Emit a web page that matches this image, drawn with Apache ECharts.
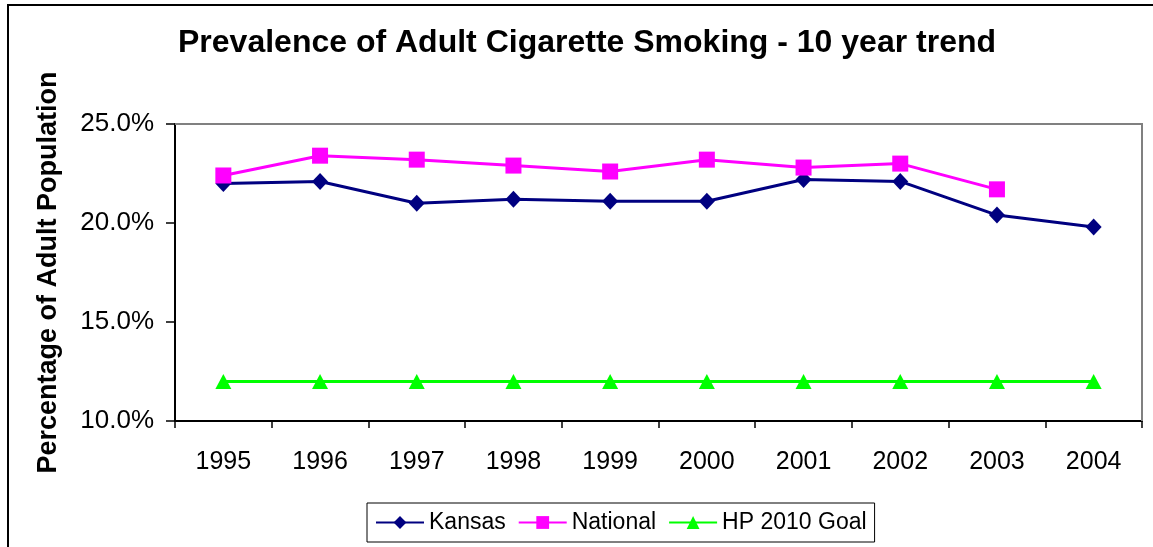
<!DOCTYPE html>
<html>
<head>
<meta charset="utf-8">
<script src="https://cdn.jsdelivr.net/npm/echarts@6/dist/echarts.min.js"></script>
<style>
html,body{margin:0;padding:0;background:#fff;}
#chart{width:1153px;height:547px;}
</style>
</head>
<body>
<div id="chart"></div>
<script>
const years = ['1995','1996','1997','1998','1999','2000','2001','2002','2003','2004'];
const kansas = [22.0, 22.1, 21.0, 21.2, 21.1, 21.1, 22.2, 22.1, 20.4, 19.8];
const national = [22.4, 23.4, 23.2, 22.9, 22.6, 23.2, 22.8, 23.0, 21.7, null];
const hpGoal = [12, 12, 12, 12, 12, 12, 12, 12, 12, 12];

const FONT = '"Liberation Sans", Arial, sans-serif';
const chart = echarts.init(document.getElementById('chart'), null, {renderer: 'canvas'});
chart.setOption({
  animation: false,
  backgroundColor: '#fff',
  textStyle: {fontFamily: FONT},
  title: {
    text: 'Prevalence of Adult Cigarette Smoking - 10 year trend',
    left: 173,
    top: 22,
    textStyle: {fontFamily: FONT, fontSize: 32, fontWeight: 'bold', color: '#000'}
  },
  graphic: [{
    type: 'rect',
    shape: {x: 8, y: 5, width: 1300, height: 700},
    style: {fill: 'none', stroke: '#000', lineWidth: 2},
    silent: true
  }, {
    type: 'polyline',
    shape: {points: [[175, 124], [1142, 124], [1142, 421]]},
    style: {fill: 'none', stroke: '#808080', lineWidth: 2},
    silent: true,
    z: 1
  }],
  legend: {
    left: 367,
    top: 503,
    padding: [8, 8, 8, 8],
    borderColor: '#000',
    borderWidth: 1,
    itemWidth: 48,
    itemHeight: 16,
    itemGap: 12,
    textStyle: {fontFamily: FONT, fontSize: 23, color: '#000'},
    data: ['Kansas', 'National', 'HP 2010 Goal']
  },
  grid: {left: 175, top: 124, right: 11, bottom: 126, containLabel: false},
  xAxis: {
    type: 'category',
    data: years,
    boundaryGap: true,
    axisLine: {show: true, lineStyle: {color: '#000', width: 2}},
    axisTick: {show: true, inside: false, length: 7, lineStyle: {color: '#000', width: 1.5}},
    axisLabel: {fontFamily: FONT, fontSize: 25, color: '#000', margin: 29},
    splitLine: {show: false}
  },
  yAxis: {
    type: 'value',
    min: 10,
    max: 25,
    interval: 5,
    name: 'Percentage of Adult Population',
    nameLocation: 'middle',
    nameRotate: 90,
    nameGap: 113,
    nameTextStyle: {fontFamily: FONT, fontSize: 27, fontWeight: 'bold', color: '#000'},
    axisLine: {show: true, lineStyle: {color: '#000', width: 2}},
    axisTick: {show: true, inside: false, length: 9, lineStyle: {color: '#000', width: 1.5}},
    axisLabel: {fontFamily: FONT, fontSize: 26, color: '#000', margin: 21,
      formatter: v => v.toFixed(1) + '%'},
    splitLine: {show: false}
  },
  series: [{
    name: 'Kansas',
    type: 'line',
    data: kansas,
    symbol: 'diamond',
    symbolSize: [16, 17],
    lineStyle: {color: '#000080', width: 3},
    itemStyle: {color: '#000080'},
    z: 3
  }, {
    name: 'National',
    type: 'line',
    data: national,
    symbol: 'rect',
    symbolSize: 16,
    lineStyle: {color: '#FF00FF', width: 3},
    itemStyle: {color: '#FF00FF'},
    z: 4
  }, {
    name: 'HP 2010 Goal',
    type: 'line',
    data: hpGoal,
    symbol: 'triangle',
    symbolSize: [16, 15],
    lineStyle: {color: '#00FF00', width: 3},
    itemStyle: {color: '#00FF00'},
    z: 3
  }]
});
</script>
</body>
</html>
